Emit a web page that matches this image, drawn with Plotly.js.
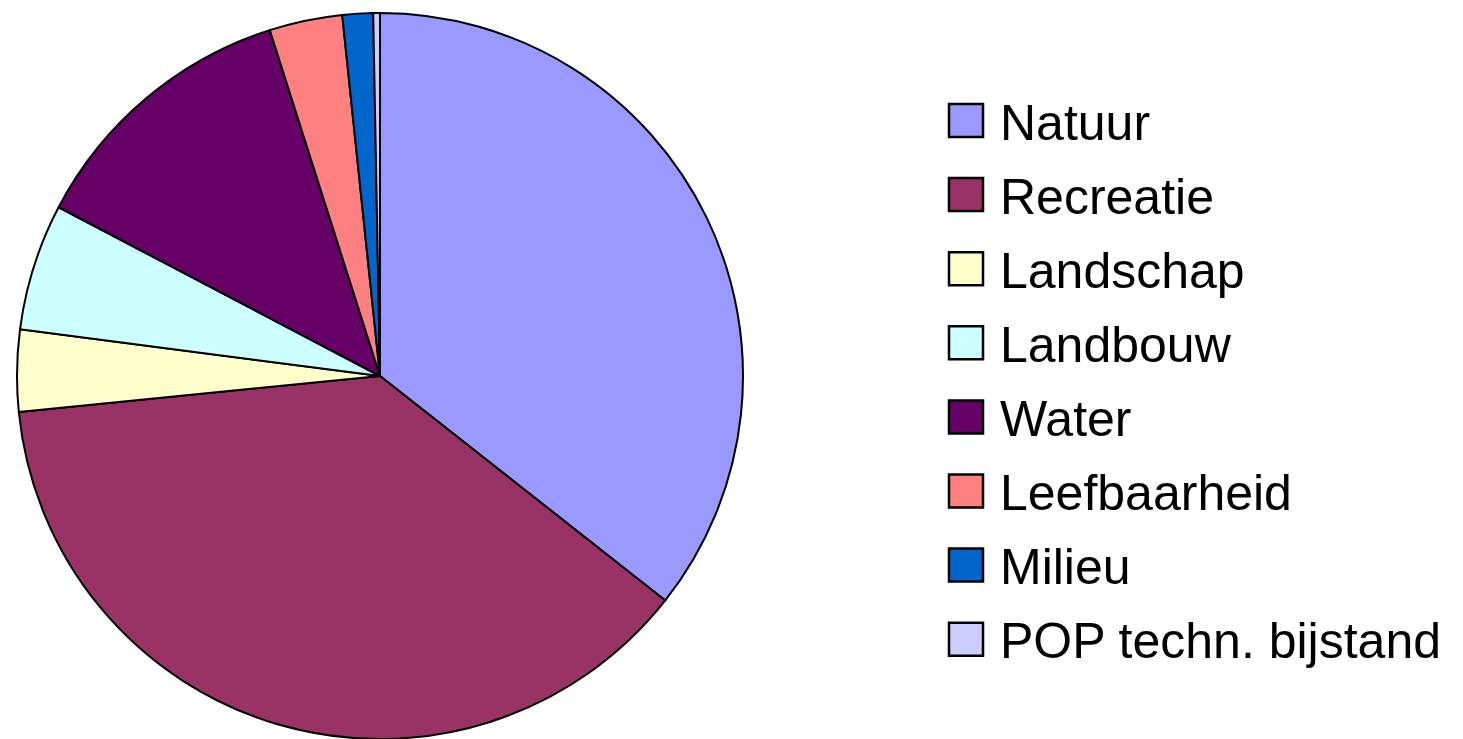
<!DOCTYPE html>
<html>
<head>
<meta charset="utf-8">
<script src="https://cdn.plot.ly/plotly-3.0.1.min.js"></script>
<style>html,body{margin:0;padding:0;background:#fff;overflow:hidden;}</style>
</head>
<body>
<div id="chart" style="width:1463px;height:739px;"></div>
<script>
const categories = ["Natuur", "Recreatie", "Landschap", "Landbouw", "Water", "Leefbaarheid", "Milieu", "POP techn. bijstand"];
const values = [35.6, 37.8, 3.63, 5.64, 12.39, 3.25, 1.36, 0.3];
const colors = ["#9999FF", "#993366", "#FFFFCC", "#CCFFFF", "#660066", "#FF8080", "#0066CC", "#CCCCFF"];

const W = 1463, H = 739;
const px = x => x / W;
const py = y => 1 - y / H;

const shapes = [];
const annotations = [];
const rowTop = 104, rowStep = 74.1, box = 33;
categories.forEach((c, i) => {
  const top = rowTop + i * rowStep;
  shapes.push({
    type: "rect", xref: "paper", yref: "paper",
    x0: px(949), x1: px(983), y0: py(top + box), y1: py(top),
    fillcolor: colors[i], line: {color: "#000", width: 2.5}
  });
  annotations.push({
    xref: "paper", yref: "paper", x: px(998), y: py(top + box / 2 + 2),
    xanchor: "left", yanchor: "middle", showarrow: false,
    text: c, font: {family: "Liberation Sans, Arial, sans-serif", size: 50, color: "#000"}
  });
});

Plotly.newPlot("chart", [{
  type: "pie",
  labels: categories,
  values: values,
  sort: false,
  direction: "clockwise",
  rotation: 0,
  textinfo: "none",
  hoverinfo: "label+percent",
  marker: {colors: colors, line: {color: "#000", width: 2}},
  domain: {x: [17 / W, 743 / W], y: [0, 726 / H]},
  showlegend: false
}], {
  width: W, height: H,
  margin: {l: 0, r: 0, t: 0, b: 0},
  paper_bgcolor: "#fff",
  showlegend: false,
  shapes: shapes,
  annotations: annotations
}, {displayModeBar: false, staticPlot: true});
</script>
</body>
</html>
